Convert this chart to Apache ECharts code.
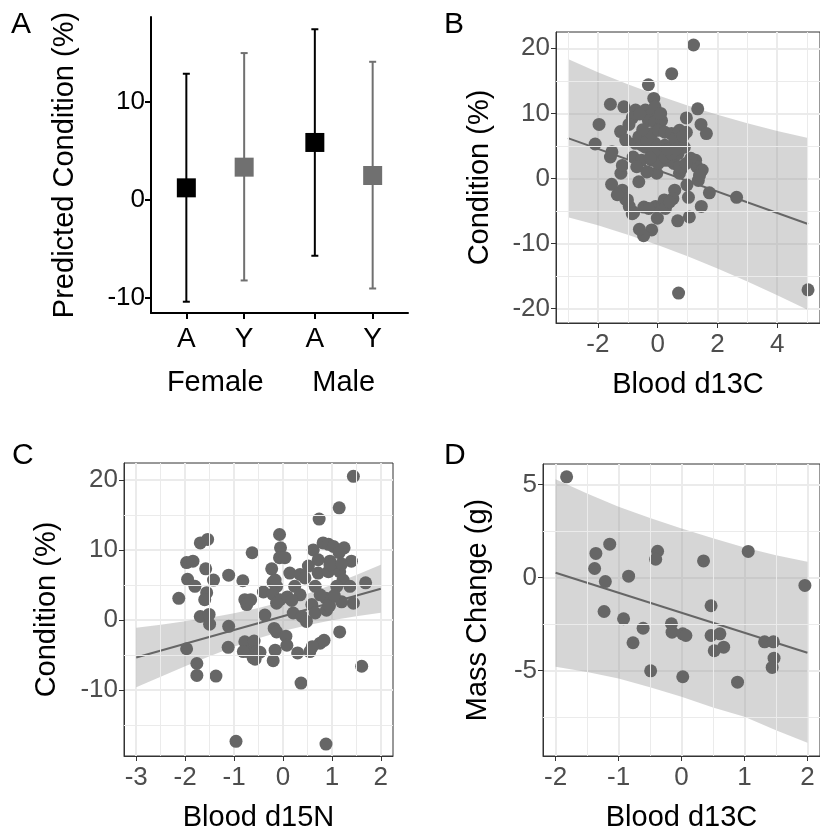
<!DOCTYPE html>
<html lang="en">
<head>
<meta charset="UTF-8">
<title>Condition panels</title>
<script src="https://cdn.jsdelivr.net/npm/echarts@6/dist/echarts.min.js"></script>
<style>
  html, body { margin: 0; padding: 0; background: #fff; }
  #main { width: 820px; height: 833px; }
</style>
</head>
<body>
<div id="main"></div>
<script>
// ---- panel A: predicted condition by sex / age ----
var sexes = ['Female', 'Male'];
var ageLabels = ['A', 'Y', 'A', 'Y'];
var predMean = [1.22, 3.33, 5.85, 2.48];
var predLow = [-10.4, -8.23, -5.71, -9.05];
var predHigh = [12.86, 14.97, 17.4, 14.08];

// ---- panel B: condition vs blood d13C ----
var bX = [1.20, 0.47, -0.31, -1.58, -1.13, -1.96, -2.09, -0.13, 1.34, 0.96, 1.45, 1.63, 0.96, 2.64, 1.73, 1.46, 1.06, 1.03, 0.98, 0.70,
  5.03, 0.67, -0.01, -0.20, -0.47, -0.61, -0.46, -0.80, -0.95, -1.01, -1.18, -1.54, -1.23, -1.18, -1.58, -1.53, -1.24, -1.07, -0.82, -0.63,
  -0.07, 0.17, 0.57, 0.22, -0.03, 0.24, 0.54, 0.73, 1.27, 1.31, 1.49, 1.36, 0.26, 0.51, 1.11, 0.80, -0.36, -0.54, -0.41, 0.02,
  0.35, 0.68, 0.89, 0.73, 0.24, -0.09, -0.74, -1.07, -0.85, -0.74, -0.85, -0.96, -0.41, -0.20, -0.09, -0.31, -0.09, 0.13, -0.63, -0.52,
  -0.36, -0.20, 0.02, 0.24, 0.46, 0.57, 0.73, -0.20, 0.02, 0.24, 0.46, 0.85, 0.73, 0.95, -1.35, -0.30, 0.40, 1.40, -0.50, 0.10,
  -0.15, 0.35, -0.60, -0.25, 0.60, -0.70];
var bY = [20.5, 16.1, 14.4, 11.4, 11.0, 8.3, 5.3, 12.3, 10.7, 9.3, 8.3, 6.9, 7.1, -2.9, -2.2, -4.3, -5.9, -2.9, -1.0, -17.6,
  -17.1, -6.5, -6.1, -7.9, -8.8, -7.8, -4.4, -5.2, -4.3, -3.3, -1.8, -0.9, 0.8, 2.0, 3.3, 4.1, 7.2, 5.9, 3.3, -0.5,
  -4.3, -4.1, -1.8, -3.3, 0.8, 2.8, 2.3, 0.8, 2.8, 1.8, 1.3, -0.3, -4.6, -3.1, 3.1, 1.5, 1.0, 2.8, 4.8, 3.8,
  2.8, 3.8, 4.8, 5.4, 5.1, 5.4, 5.4, -3.2, -5.4, 10.5, 9.3, 8.3, 10.5, 9.9, 11.0, 8.9, 8.7, 8.9, 6.4, 5.1,
  5.9, 6.9, 7.4, 7.1, 6.9, 6.1, 7.4, 2.8, 2.3, 3.3, 3.8, 6.5, 1.8, 2.3, -2.5, -4.6, -3.6, 0.5, 7.5, 10.0,
  4.0, 4.5, 9.9, 3.2, 4.5, 1.8];
var bFitX = [-3, 5.03];
var bFitY = [6.2, -7.0];
var bBandX = [-3, -2, -1, 0, 1, 2, 3, 4, 5.03];
var bBandUp = [18.35, 16.32, 14.47, 12.77, 11.21, 9.78, 8.49, 7.31, 6.20];
var bBandLo = [-5.95, -7.20, -8.65, -10.23, -11.95, -13.82, -15.81, -17.93, -20.20];

// ---- panel C: condition vs blood d15N ----
var cX = [1.44, 1.15, 0.74, -1.69, -1.54, -0.63, -0.07, -0.05, -0.07, 0.04, -1.97, -1.84, -1.58, -1.95, -1.80, -1.42, -1.11, -0.82, -2.13, -1.56,
  -1.60, -1.69, -1.51, -1.50, -1.11, -1.97, -1.76, -1.76, -1.37, -1.12, -0.96, -0.78, -0.74, -0.66, -0.37, -0.40, -0.23, -0.20, -0.13, -0.21,
  -0.06, -0.18, -0.13, -0.16, -0.20, 0.06, 0.08, -0.78, -0.71, -0.59, -0.54, -0.57, -0.81, 0.30, 0.37, 0.21, 0.39, 0.48, 0.55, 0.76,
  0.84, 0.59, 0.66, 0.89, 0.88, 0.66, 0.14, 0.35, 0.24, 0.35, 0.09, 0.52, 0.62, 0.72, 0.72, 0.82, 0.93, 1.03, 1.25, 1.15,
  0.96, 0.93, 1.16, 1.40, 1.23, 1.37, 1.10, 1.69, 1.44, 1.20, 1.16, 1.61, 0.88, 0.76, 0.95, -0.16, 0.18, -0.13, 0.96, 1.20,
  0.45, -0.61, -0.47, 1.05, 0.60];
var cY = [20.5, 16.0, 14.4, 11.0, 11.5, 9.6, 12.2, 10.3, 8.9, 8.9, 8.2, 8.4, 7.3, 5.8, 4.8, 5.7, 6.4, 5.6, 3.1, 3.9,
  2.9, 0.5, 0.8, -0.6, -0.9, -4.1, -6.2, -7.9, -8.0, -3.9, -17.3, 2.9, 2.2, 2.9, 0.7, 4.0, 7.3, 5.4, 4.8, 3.7,
  2.9, -1.2, -1.7, -4.3, -5.8, -2.3, -3.6, -3.1, -4.5, -3.0, -4.5, -5.6, -4.5, -4.7, -9.0, 1.0, 0.5, -0.2, -4.5, -3.3,
  -2.9, 2.2, 1.0, 1.4, 3.1, 4.8, 6.7, 6.5, 4.8, 3.6, 3.3, 7.7, 10.0, 8.6, 6.7, 11.0, 10.8, 10.5, 10.3, 9.6,
  8.4, 6.9, 6.9, 8.4, 5.7, 4.8, 4.8, 5.3, 2.4, 2.6, -1.7, -6.6, -17.7, 3.6, 2.0, 5.7, 2.8, 2.4, 7.9, 8.0,
  6.0, -5.4, -4.6, 3.5, -3.8];
var cFitX = [-3, 2];
var cFitY = [-5.35, 4.45];
var cBandX = [-3, -2.5, -2, -1.5, -1, -0.5, 0, 0.5, 1, 1.5, 2];
var cBandUp = [-1.10, -0.66, -0.19, 0.34, 0.95, 1.70, 2.63, 3.75, 5.03, 6.42, 7.88];
var cBandLo = [-9.60, -8.08, -6.59, -5.16, -3.81, -2.60, -1.57, -0.73, -0.05, 0.52, 1.02];

// ---- panel D: mass change vs blood d13C ----
var dX = [-1.825, -1.36, -1.14, -1.38, -1.21, -1.23, -0.84, -0.92, -0.77, -0.61, -0.49, -0.38, -0.41, -0.16, -0.15, 0.02,
  0.07, 0.02, 0.35, 0.47, 0.47, 0.61, 0.52, 0.67, 0.89, 1.06, 1.32, 1.46, 1.47, 1.44, 1.96];
var dY = [5.41, 1.29, 1.79, 0.48, -0.22, -1.83, 0.07, -2.22, -3.51, -2.73, -5.02, 1.41, 0.98, -2.49, -2.94, -3.03,
  -3.12, -5.34, 0.89, -1.52, -3.12, -3.03, -3.94, -3.75, -5.63, 1.40, -3.46, -3.46, -4.34, -4.84, -0.43];
var dFitX = [-2, 2];
var dFitY = [0.25, -4.05];
var dBandX = [-2, -1.5, -1, -0.5, 0, 0.5, 1, 1.5, 2];
var dBandUp = [5.28, 4.51, 3.80, 3.19, 2.63, 2.11, 1.61, 1.19, 0.84];
var dBandLo = [-4.80, -5.09, -5.43, -5.91, -6.42, -6.99, -7.49, -8.21, -8.89];

var FONT = 'Liberation Sans, Arial, sans-serif';
var PT_COLOR = '#666666';
var DODGE = 0.225;
var TICK_FONT = 26;
var TITLE_FONT = 29;

var agePos = [];
for (var s = 0; s < sexes.length; s++) {
  agePos.push(s + 1 - DODGE);
  agePos.push(s + 1 + DODGE);
}

function zip(xs, ys) {
  var out = [];
  for (var i = 0; i < xs.length; i++) out.push([xs[i], ys[i]]);
  return out;
}

function panelXAxis(grid, min, max, ticks, name, gap) {
  return {
    type: 'value', gridIndex: grid, min: min, max: max, position: 'bottom',
    axisLine: { show: true, onZero: false, lineStyle: { color: '#333', width: 1 } },
    axisTick: { show: true, customValues: ticks, length: 5, lineStyle: { color: '#333', width: 1 } },
    axisLabel: { customValues: ticks, color: '#4d4d4d', fontSize: TICK_FONT, fontFamily: FONT, margin: 9 },
    splitLine: { show: true, lineStyle: { color: '#ebebeb', width: 2 } },
    name: name, nameLocation: 'middle', nameGap: gap,
    nameTextStyle: { color: '#000', fontSize: TITLE_FONT, fontFamily: FONT }
  };
}

function panelYAxis(grid, min, max, ticks, name, gap) {
  return {
    type: 'value', gridIndex: grid, min: min, max: max,
    axisLine: { show: true, onZero: false, lineStyle: { color: '#333', width: 1 } },
    axisTick: { show: true, customValues: ticks, length: 5, lineStyle: { color: '#333', width: 1 } },
    axisLabel: { customValues: ticks, color: '#4d4d4d', fontSize: TICK_FONT, fontFamily: FONT, margin: 6 },
    splitLine: { show: true, lineStyle: { color: '#ebebeb', width: 2 } },
    name: name, nameLocation: 'middle', nameGap: gap, nameRotate: 90,
    nameTextStyle: { color: '#000', fontSize: TITLE_FONT, fontFamily: FONT }
  };
}

// minor grid lines drawn as markLines through the panel's own axes
function minorGrid(axisIdx, xs, ys) {
  var lines = [];
  xs.forEach(function (v) { lines.push({ xAxis: v }); });
  ys.forEach(function (v) { lines.push({ yAxis: v }); });
  return {
    type: 'line', xAxisIndex: axisIdx, yAxisIndex: axisIdx, data: [], z: 1, silent: true,
    markLine: {
      silent: true, symbol: ['none', 'none'], label: { show: false }, animation: false,
      lineStyle: { color: '#ebebeb', width: 1, type: 'solid' },
      emphasis: { disabled: true },
      data: lines
    }
  };
}

function bandSeries(axisIdx, xs, up, lo) {
  return {
    type: 'custom', xAxisIndex: axisIdx, yAxisIndex: axisIdx, z: 2, silent: true,
    data: [[xs[0], up[0]]],
    renderItem: function (params, api) {
      var pts = [];
      for (var i = 0; i < xs.length; i++) pts.push(api.coord([xs[i], up[i]]));
      for (var j = xs.length - 1; j >= 0; j--) pts.push(api.coord([xs[j], lo[j]]));
      return { type: 'polygon', shape: { points: pts }, style: { fill: 'rgba(153,153,153,0.4)' } };
    }
  };
}

function fitSeries(axisIdx, xs, ys) {
  return {
    type: 'line', xAxisIndex: axisIdx, yAxisIndex: axisIdx, z: 3, silent: true,
    data: zip(xs, ys), showSymbol: false, symbol: 'none',
    lineStyle: { color: PT_COLOR, width: 2 }
  };
}

function pointSeries(axisIdx, xs, ys) {
  return {
    type: 'scatter', xAxisIndex: axisIdx, yAxisIndex: axisIdx, z: 4, silent: true,
    data: zip(xs, ys), symbolSize: 13,
    itemStyle: { color: PT_COLOR, opacity: 1 }
  };
}

var barData = [];
var meanBlack = [], meanGrey = [];
for (var k = 0; k < agePos.length; k++) {
  barData.push([agePos[k], predLow[k], predHigh[k], ageLabels[k] === 'A' ? 0 : 1]);
  (ageLabels[k] === 'A' ? meanBlack : meanGrey).push([agePos[k], predMean[k]]);
}
var barColors = ['#000000', '#707070'];

var letterStyle = { fontSize: 30, fontWeight: 'normal', color: '#000', fontFamily: FONT };

var option = {
  animation: false,
  backgroundColor: '#fff',
  title: [
    { text: 'A', left: 11, top: 10, padding: 0, textStyle: letterStyle },
    { text: 'B', left: 444, top: 10, padding: 0, textStyle: letterStyle },
    { text: 'C', left: 12, top: 441, padding: 0, textStyle: letterStyle },
    { text: 'D', left: 444, top: 441, padding: 0, textStyle: letterStyle }
  ],
  grid: [
    { left: 151, top: 17, width: 257, height: 296, show: false },
    { left: 556, top: 32, width: 270, height: 291, show: true, borderColor: '#333', borderWidth: 1, backgroundColor: '#fff' },
    { left: 124, top: 463, width: 269, height: 293, show: true, borderColor: '#333', borderWidth: 1, backgroundColor: '#fff' },
    { left: 543, top: 464, width: 282, height: 292, show: true, borderColor: '#333', borderWidth: 1, backgroundColor: '#fff' }
  ],
  xAxis: [
    panelXAxis(1, -3.4, 5.43, [-2, 0, 2, 4], 'Blood d13C', 47),
    panelXAxis(2, -3.25, 2.25, [-3, -2, -1, 0, 1, 2], 'Blood d15N', 47),
    panelXAxis(3, -2.2, 2.2, [-2, -1, 0, 1, 2], 'Blood d13C', 47),
    {
      type: 'value', gridIndex: 0, min: 0.5, max: 2.5, position: 'bottom',
      axisLine: { show: true, onZero: false, lineStyle: { color: '#000', width: 2 } },
      axisTick: { show: true, customValues: agePos, length: 6, lineStyle: { color: '#000', width: 2 } },
      axisLabel: {
        customValues: agePos, color: '#000', fontSize: 28, fontFamily: FONT, margin: 12,
        formatter: function (v) {
          for (var i = 0; i < agePos.length; i++) if (Math.abs(agePos[i] - v) < 1e-6) return ageLabels[i];
          return '';
        }
      },
      splitLine: { show: false }
    },
    {
      type: 'value', gridIndex: 0, min: 0.5, max: 2.5, position: 'bottom', offset: 0,
      axisLine: { show: false }, axisTick: { show: false }, splitLine: { show: false },
      axisLabel: {
        customValues: [1, 2], color: '#000', fontSize: 29, fontFamily: FONT, margin: 55,
        formatter: function (v) { return sexes[Math.round(v) - 1] || ''; }
      }
    }
  ],
  yAxis: [
    panelYAxis(1, -22.2, 22.5, [-20, -10, 0, 10, 20], 'Condition (%)', 62),
    panelYAxis(2, -19.4, 22.4, [-10, 0, 10, 20], 'Condition (%)', 63),
    panelYAxis(3, -9.6, 6.1, [-5, 0, 5], 'Mass Change (g)', 51),
    {
      type: 'value', gridIndex: 0, min: -11.55, max: 18.65,
      axisLine: { show: true, onZero: false, lineStyle: { color: '#000', width: 2 } },
      axisTick: { show: true, customValues: [-10, 0, 10], length: 6, lineStyle: { color: '#000', width: 2 } },
      axisLabel: { customValues: [-10, 0, 10], color: '#000', fontSize: TICK_FONT, fontFamily: FONT, margin: 6 },
      splitLine: { show: false },
      name: 'Predicted Condition (%)', nameLocation: 'middle', nameGap: 72, nameRotate: 90,
      nameTextStyle: { color: '#000', fontSize: TITLE_FONT, fontFamily: FONT }
    }
  ],
  series: [
    minorGrid(0, [-3, -1, 1, 3, 5], [-15, -5, 5, 15]),
    bandSeries(0, bBandX, bBandUp, bBandLo),
    fitSeries(0, bFitX, bFitY),
    pointSeries(0, bX, bY),

    minorGrid(1, [-2.5, -1.5, -0.5, 0.5, 1.5], [-15, -5, 5, 15]),
    bandSeries(1, cBandX, cBandUp, cBandLo),
    fitSeries(1, cFitX, cFitY),
    pointSeries(1, cX, cY),

    minorGrid(2, [-1.5, -0.5, 0.5, 1.5], [-7.5, -2.5, 2.5]),
    bandSeries(2, dBandX, dBandUp, dBandLo),
    fitSeries(2, dFitX, dFitY),
    pointSeries(2, dX, dY),

    {
      type: 'custom', xAxisIndex: 3, yAxisIndex: 3, z: 3, silent: true,
      data: barData,
      renderItem: function (params, api) {
        var x = api.value(0);
        var top = api.coord([x, api.value(2)]);
        var bot = api.coord([x, api.value(1)]);
        var style = { stroke: barColors[api.value(3)], lineWidth: 2 };
        var cap = 3.5;
        return {
          type: 'group',
          children: [
            { type: 'line', shape: { x1: top[0], y1: top[1], x2: bot[0], y2: bot[1] }, style: style },
            { type: 'line', shape: { x1: top[0] - cap, y1: top[1], x2: top[0] + cap, y2: top[1] }, style: style },
            { type: 'line', shape: { x1: bot[0] - cap, y1: bot[1], x2: bot[0] + cap, y2: bot[1] }, style: style }
          ]
        };
      }
    },
    {
      type: 'scatter', xAxisIndex: 3, yAxisIndex: 3, z: 4, silent: true,
      data: meanBlack, symbol: 'rect', symbolSize: 19,
      itemStyle: { color: barColors[0], opacity: 1 }
    },
    {
      type: 'scatter', xAxisIndex: 3, yAxisIndex: 3, z: 4, silent: true,
      data: meanGrey, symbol: 'rect', symbolSize: 19,
      itemStyle: { color: barColors[1], opacity: 1 }
    }
  ]
};

var chart = echarts.init(document.getElementById('main'), null, { renderer: 'canvas' });
chart.setOption(option);
</script>
</body>
</html>
